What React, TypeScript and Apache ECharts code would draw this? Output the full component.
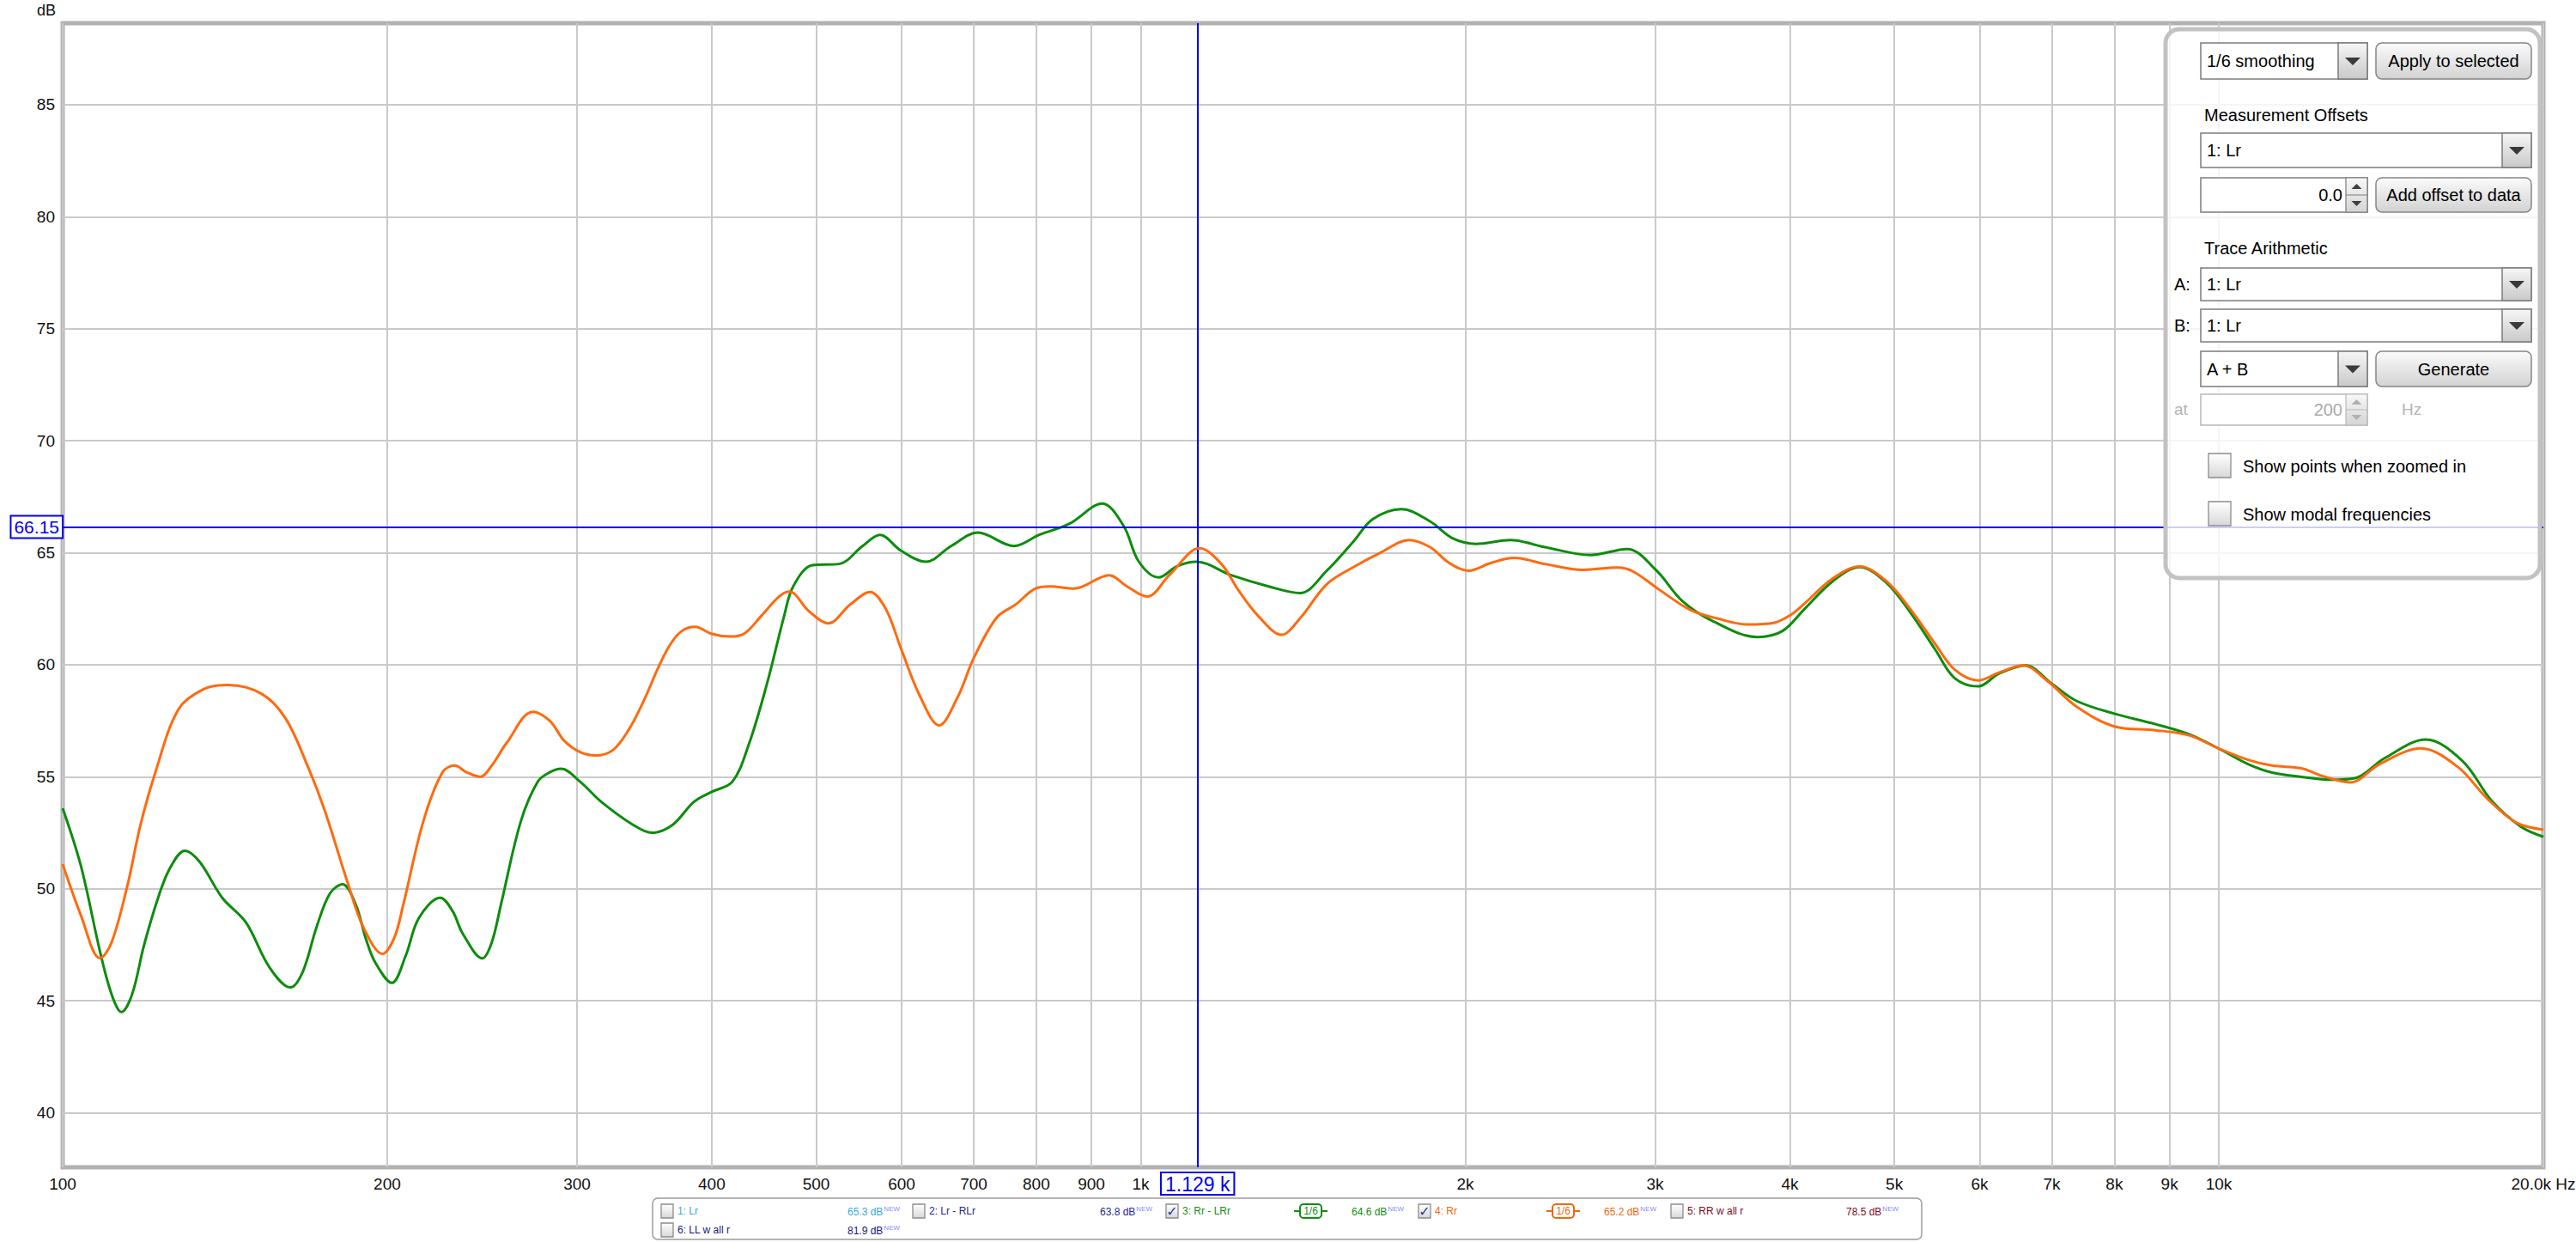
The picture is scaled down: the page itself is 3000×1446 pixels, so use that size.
import React, { useEffect, useRef } from 'react';
import * as echarts from 'echarts';

// ---------- data ----------
const FREQ_TICKS = [100, 200, 300, 400, 500, 600, 700, 800, 900, 1000, 2000, 3000, 4000, 5000, 6000, 7000, 8000, 9000, 10000, 20000];
const FREQ_TICK_LABELS = ['100', '200', '300', '400', '500', '600', '700', '800', '900', '1k', '2k', '3k', '4k', '5k', '6k', '7k', '8k', '9k', '10k', '20.0k Hz'];
const DB_TICKS = [40, 45, 50, 55, 60, 65, 70, 75, 80, 85];

// 3: Rr - LRr (green)
const GREEN_FREQ = [100, 104, 108.3, 111, 113.4, 116, 119, 123, 126, 129.8, 134, 140.6, 147.9, 155.5, 162.6, 167, 172, 177, 181.8, 187, 191, 195, 202, 208, 214, 224, 230, 235, 245, 250, 255, 266, 276, 283, 290, 302, 316, 338, 352, 368, 385, 400, 418, 433, 450, 467, 476, 496, 525, 552, 573, 599, 632, 667, 706, 763, 805, 859, 921, 964, 996, 1039, 1081, 1126, 1213, 1314, 1405, 1488, 1575, 1641, 1745, 1855, 1948, 2046, 2203, 2371, 2615, 2826, 3004, 3182, 3396, 3732, 3935, 4120, 4384, 4643, 4917, 5181, 5458, 5689, 5983, 6250, 6618, 7007, 7385, 8025, 8723, 9384, 9990, 10643, 11205, 11927, 12699, 13377, 14245, 15560, 16830, 17914, 19066, 20000];
const GREEN_DB = [53.6, 51.0, 47.2, 45.3, 44.5, 45.3, 47.5, 49.8, 51.0, 51.7, 51.2, 49.6, 48.5, 46.5, 45.6, 46.3, 48.3, 49.8, 50.2, 49.3, 47.8, 46.7, 45.8, 47.0, 48.7, 49.6, 49.0, 48.0, 46.9, 47.6, 49.3, 53.0, 54.8, 55.2, 55.36, 54.78, 53.88, 52.86, 52.5, 52.86, 53.88, 54.33, 54.78, 56.45, 59.14, 62.2, 63.5, 64.45, 64.5, 65.3, 65.8, 65.1, 64.6, 65.3, 65.9, 65.3, 65.8, 66.3, 67.2, 66.2, 64.6, 63.9, 64.4, 64.6, 64.0, 63.5, 63.2, 64.2, 65.5, 66.5, 66.95, 66.4, 65.64, 65.4, 65.57, 65.25, 64.9, 65.17, 64.24, 62.83, 61.94, 61.24, 61.5, 62.45, 63.73, 64.36, 63.66, 62.3, 60.67, 59.4, 59.04, 59.6, 59.97, 59.14, 58.38, 57.8, 57.36, 56.9, 56.27, 55.57, 55.19, 55.0, 54.87, 54.94, 55.83, 56.66, 55.7, 53.92, 52.77, 52.32];

// 4: Rr (orange)
const ORANGE_FREQ = [100, 104, 108.3, 111, 114.9, 118, 121.9, 128, 135, 142.4, 153, 161, 169, 175, 184, 190, 198, 203, 207, 216, 225, 231, 237, 244, 250, 258, 273, 283, 292, 302, 312, 324, 335, 346, 357, 366, 375, 386, 400, 416, 429, 445, 462, 472, 492, 513, 538, 561, 580, 599, 624, 650, 677, 700, 735, 766, 798, 824, 867, 935, 971, 1014, 1063, 1134, 1188, 1233, 1284, 1351, 1405, 1488, 1575, 1668, 1774, 1855, 1932, 2013, 2114, 2220, 2371, 2572, 2769, 2861, 3029, 3234, 3424, 3656, 3871, 4000, 4120, 4384, 4643, 4917, 5181, 5458, 5689, 5983, 6250, 6583, 6936, 7385, 8025, 8723, 9384, 9990, 10643, 11205, 11927, 12434, 13240, 14101, 15397, 16651, 17730, 18870, 20000];
const ORANGE_DB = [51.1, 48.8, 46.9, 47.6, 50.2, 52.8, 55.2, 58.0, 58.9, 59.1, 58.7, 57.6, 55.4, 53.5, 50.2, 48.3, 47.1, 47.8, 49.3, 53.0, 55.2, 55.5, 55.2, 55.0, 55.5, 56.5, 57.9, 57.5, 56.6, 56.1, 55.95, 56.2, 57.1, 58.4, 59.9, 60.9, 61.5, 61.7, 61.38, 61.26, 61.4, 62.2, 63.05, 63.27, 62.4, 61.85, 62.7, 63.25, 62.5, 60.75, 58.6, 57.3, 58.6, 60.3, 62.1, 62.7, 63.4, 63.5, 63.4, 64.0, 63.5, 63.05, 64.0, 65.2, 64.5, 63.3, 62.2, 61.34, 62.07, 63.6, 64.36, 65.0, 65.57, 65.25, 64.55, 64.2, 64.55, 64.77, 64.5, 64.24, 64.34, 64.17, 63.34, 62.45, 62.07, 61.8, 61.88, 62.2, 62.7, 63.85, 64.39, 63.73, 62.45, 60.92, 59.78, 59.3, 59.65, 59.97, 59.27, 58.12, 57.23, 57.08, 56.85, 56.27, 55.76, 55.5, 55.38, 55.06, 54.75, 55.57, 56.27, 55.45, 54.04, 52.96, 52.64];

const CURSOR_FREQ = 1129;
const CURSOR_DB = 66.15;
const CURSOR_FREQ_LABEL = '1.129 k';
const CURSOR_DB_LABEL = '66.15';

const LEGEND_LABELS = ['1: Lr', '2: Lr - RLr', '3: Rr - LRr', '4: Rr', '5: RR w all r', '6: LL w all r'];
const LEGEND_VALUES = ['65.3 dB', '63.8 dB', '64.6 dB', '65.2 dB', '78.5 dB', '81.9 dB'];
const LEGEND_CHECKED = [false, false, true, true, false, false];
const LEGEND_SMOOTHING = ['', '', '1/6', '1/6', '', ''];
const LEGEND_COLORS = ['#38aad8', '#26268e', '#148c14', '#ea6a10', '#7e0c1e', '#16167e'];

const SMOOTHING_CHOICE = '1/6 smoothing';
const OFFSET_VALUE = '0.0';
const TRACE_A = '1: Lr';
const TRACE_B = '1: Lr';
const TRACE_OP = 'A + B';
const AT_FREQ = '200';

const GREEN = '#0d8c0d';
const ORANGE = '#ff6a0e';
const CURSOR_BLUE = '#0000ee';

const FONT = "'Liberation Sans', Arial, sans-serif";
const SMALL_FONT = "'Liberation Sans Narrow', 'Liberation Sans', Arial, sans-serif";

// ---------- graphic helpers ----------
const grad = (a: string, b: string) =>
  new echarts.graphic.LinearGradient(0, 0, 0, 1, [
    { offset: 0, color: a },
    { offset: 1, color: b },
  ]);

function txt(x: number, y: number, text: string, o: any = {}) {
  const align = o.align || 'left';
  return {
    type: 'text',
    x,
    y,
    z: o.z ?? 110,
    silent: true,
    style: {
      text,
      fill: o.color || '#000',
      fontSize: o.size || 20,
      fontFamily: o.family || FONT,
      fontWeight: o.weight || 'normal',
      align,
      verticalAlign: 'middle',
      textAlign: align,
      textVerticalAlign: 'middle',
    },
  };
}

function rect(x: number, y: number, w: number, h: number, style: any, r = 0, z = 105) {
  return { type: 'rect', z, silent: true, shape: { x, y, width: w, height: h, r }, style };
}

function dropdown(x: number, y: number, w: number, h: number, text: string) {
  const aw = 34;
  const cx = x + w - aw / 2;
  const cy = y + h / 2;
  return [
    rect(x, y, w, h, { fill: '#fff', stroke: '#7c7c7c', lineWidth: 1.5 }),
    rect(x + w - aw, y, aw, h, { fill: grad('#f6f6f6', '#c9c9c9'), stroke: '#7c7c7c', lineWidth: 1.5 }, 0, 106),
    {
      type: 'polygon', z: 107, silent: true,
      shape: { points: [[cx - 9, cy - 4], [cx + 9, cy - 4], [cx, cy + 5]] },
      style: { fill: '#3a3a3a' },
    },
    txt(x + 7, cy, text, { size: 20 }),
  ];
}

function button(x: number, y: number, w: number, h: number, text: string) {
  return [
    rect(x, y, w, h, { fill: grad('#fbfbfb', '#d2d2d2'), stroke: '#858585', lineWidth: 1.5 }, 7),
    txt(x + w / 2, y + h / 2, text, { size: 20, align: 'center' }),
  ];
}

function spinInput(x: number, y: number, w: number, h: number, text: string, disabled: boolean) {
  const sw = 25;
  const border = disabled ? '#b8b8b8' : '#7c7c7c';
  const sx = x + w - sw;
  const cx = sx + sw / 2;
  const triCol = disabled ? '#b0b0b0' : '#404040';
  return [
    rect(x, y, w, h, { fill: '#fff', stroke: border, lineWidth: 1.5 }),
    rect(sx, y, sw, h, { fill: grad('#f8f8f8', '#d4d4d4'), stroke: border, lineWidth: 1.2 }, 0, 106),
    { type: 'line', z: 107, silent: true, shape: { x1: sx, y1: y + h / 2, x2: sx + sw, y2: y + h / 2 }, style: { stroke: border, lineWidth: 1 } },
    { type: 'polygon', z: 107, silent: true, shape: { points: [[cx - 6, y + h / 4 + 3], [cx + 6, y + h / 4 + 3], [cx, y + h / 4 - 3]] }, style: { fill: triCol } },
    { type: 'polygon', z: 107, silent: true, shape: { points: [[cx - 6, y + (3 * h) / 4 - 3], [cx + 6, y + (3 * h) / 4 - 3], [cx, y + (3 * h) / 4 + 3]] }, style: { fill: triCol } },
    txt(sx - 4, y + h / 2, text, { size: 20, align: 'right', color: disabled ? '#aaaaaa' : '#000' }),
  ];
}

function checkbox(x: number, y: number, s: number, checked: boolean, z = 106) {
  const out: any[] = [rect(x, y, s, s + 2, { fill: grad('#ffffff', '#d8d8d8'), stroke: '#8c8c8c', lineWidth: 1.3 }, 0, z)];
  if (checked) {
    out.push({
      ...txt(x + s / 2, y + s / 2 + 1, '\u2713', { size: s + 2, align: 'center', color: '#1c3c9c', family: "'DejaVu Sans', sans-serif" }),
      z: z + 1,
    });
  }
  return out;
}

function buildPanel() {
  const els: any[] = [];
  els.push(rect(2522, 34, 436, 639, { fill: 'rgba(255,255,255,0.8)', stroke: '#c2c2c2', lineWidth: 5 }, 16, 100));
  els.push(...dropdown(2563, 50, 194, 42, SMOOTHING_CHOICE));
  els.push(...button(2767, 50, 181, 42, 'Apply to selected'));
  els.push(txt(2567, 134, 'Measurement Offsets', { size: 20 }));
  els.push(...dropdown(2563, 155, 385, 40, TRACE_A));
  els.push(...spinInput(2563, 207, 194, 40, OFFSET_VALUE, false));
  els.push(...button(2767, 207, 181, 40, 'Add offset to data'));
  els.push(txt(2567, 289, 'Trace Arithmetic', { size: 20 }));
  els.push(txt(2532, 331, 'A:', { size: 20 }));
  els.push(...dropdown(2563, 312, 385, 38, TRACE_A));
  els.push(txt(2532, 379, 'B:', { size: 20 }));
  els.push(...dropdown(2563, 360, 385, 38, TRACE_B));
  els.push(...dropdown(2563, 409, 194, 41, TRACE_OP));
  els.push(...button(2767, 409, 181, 41, 'Generate'));
  els.push(txt(2532, 476, 'at', { size: 19, color: '#b4b4b4' }));
  els.push(...spinInput(2563, 459, 194, 36, AT_FREQ, true));
  els.push(txt(2797, 476, 'Hz', { size: 19, color: '#b4b4b4' }));
  els.push(...checkbox(2572, 528, 26, false));
  els.push(txt(2612, 543, 'Show points when zoomed in', { size: 20 }));
  els.push(...checkbox(2572, 584, 26, false));
  els.push(txt(2612, 599, 'Show modal frequencies', { size: 20 }));
  return els;
}

function buildLegend() {
  const els: any[] = [];
  els.push(rect(760, 1395, 1478, 48, { fill: '#fff', stroke: '#9c9c9c', lineWidth: 1.5 }, 6, 100));
  // layout slots for each legend entry: [checkboxX, row, valueX, badgeX]
  const slots = [
    [770, 0, 987, 0],
    [1063, 0, 1281, 0],
    [1358, 0, 1574, 1510],
    [1652, 0, 1868, 1804],
    [1946, 0, 2150, 0],
    [770, 1, 987, 0],
  ];
  const rowY = [1410, 1432];
  LEGEND_LABELS.forEach((label, i) => {
    const [cbx, row, vx, bx] = slots[i];
    const y = rowY[row];
    const col = LEGEND_COLORS[i];
    els.push(...checkbox(cbx, y - 8, 14, LEGEND_CHECKED[i], 105));
    els.push(txt(cbx + 19, y, label, { size: 12, color: col, family: SMALL_FONT }));
    els.push({
      type: 'text', x: vx, y, z: 110, silent: true,
      style: {
        text: '{v|' + LEGEND_VALUES[i] + '}{n|NEW}',
        verticalAlign: 'middle', textVerticalAlign: 'middle',
        rich: {
          v: { fontSize: 12, fontFamily: SMALL_FONT, fill: col, color: col, verticalAlign: 'bottom' },
          n: { fontSize: 8, fontFamily: SMALL_FONT, fill: '#8a8af2', color: '#8a8af2', verticalAlign: 'top', padding: [0, 0, 6, 1] },
        },
      },
    });
    if (LEGEND_SMOOTHING[i]) {
      els.push({ type: 'line', z: 104, silent: true, shape: { x1: bx - 3, y1: y, x2: bx + 36, y2: y }, style: { stroke: col, lineWidth: 2 } });
      els.push(rect(bx + 4, y - 8, 25, 16, { fill: '#fff', stroke: col, lineWidth: 2 }, 4, 105));
      els.push(txt(bx + 16.5, y, LEGEND_SMOOTHING[i], { size: 12, color: col, align: 'center', family: SMALL_FONT }));
    }
  });
  return els;
}

const zip = (xs: number[], ys: number[]) => xs.map((x, i) => [x, ys[i]]);

export default function App() {
  const ref = useRef<HTMLDivElement>(null);
  useEffect(() => {
    if (!ref.current) return;
    const chart = echarts.init(ref.current, undefined, { renderer: 'svg' });
    const fmtFreq = (v: number) => {
      const idx = FREQ_TICKS.findIndex((t) => Math.abs(t - v) < 1e-6 * t);
      return idx >= 0 ? FREQ_TICK_LABELS[idx] : '';
    };
    const option: any = {
      animation: false,
      backgroundColor: '#ffffff',
      grid: {
        left: 73, right: 38, top: 27, bottom: 87,
        show: true, borderColor: '#b2b2b2', borderWidth: 5, backgroundColor: '#fff',
        containLabel: false, outerBoundsMode: 'none',
      },
      xAxis: {
        type: 'log', logBase: 10, min: 100, max: 20000,
        axisLine: { show: false },
        axisTick: { show: false, customValues: FREQ_TICKS },
        axisLabel: {
          customValues: FREQ_TICKS, formatter: fmtFreq,
          fontSize: 19, color: '#111', fontFamily: FONT, margin: 10,
          showMinLabel: true, showMaxLabel: true,
        },
        splitLine: { show: true, lineStyle: { color: '#cacaca', width: 2 } },
        minorSplitLine: { show: false },
      },
      yAxis: {
        type: 'value', min: 37.57, max: 88.64,
        name: 'dB', nameLocation: 'end', nameGap: 6,
        nameTextStyle: { fontSize: 18, color: '#111', fontFamily: FONT, align: 'right', verticalAlign: 'bottom', padding: [0, 8, 0, 0] },
        axisLine: { show: false },
        axisTick: { show: false, customValues: DB_TICKS },
        axisLabel: { customValues: DB_TICKS, fontSize: 19, color: '#111', fontFamily: FONT, margin: 9, showMinLabel: true, showMaxLabel: true },
        splitLine: { show: true, lineStyle: { color: '#cacaca', width: 2 } },
      },
      series: [
        {
          name: '3: Rr - LRr', type: 'line', data: zip(GREEN_FREQ, GREEN_DB),
          showSymbol: false, smooth: 0.35, z: 3,
          lineStyle: { color: GREEN, width: 3 }, itemStyle: { color: GREEN },
          markLine: {
            silent: true, symbol: 'none', animation: false, z: 4,
            lineStyle: { color: CURSOR_BLUE, width: 2, type: 'solid' },
            data: [
              {
                yAxis: CURSOR_DB,
                label: {
                  show: true, position: 'start', formatter: CURSOR_DB_LABEL, distance: 1,
                  color: CURSOR_BLUE, fontSize: 21, fontFamily: FONT,
                  backgroundColor: '#fff', borderColor: CURSOR_BLUE, borderWidth: 2, padding: [2, 3, 1, 3],
                },
              },
              {
                xAxis: CURSOR_FREQ,
                label: {
                  show: true, position: 'start', formatter: CURSOR_FREQ_LABEL, distance: 7,
                  color: CURSOR_BLUE, fontSize: 23, fontFamily: FONT,
                  backgroundColor: '#fff', borderColor: CURSOR_BLUE, borderWidth: 2, padding: [1, 4, 0, 4],
                },
              },
            ],
          },
        },
        {
          name: '4: Rr', type: 'line', data: zip(ORANGE_FREQ, ORANGE_DB),
          showSymbol: false, smooth: 0.35, z: 5,
          lineStyle: { color: ORANGE, width: 3 }, itemStyle: { color: ORANGE },
        },
      ],
      graphic: [...buildPanel(), ...buildLegend()],
    };
    chart.setOption(option);
    return () => chart.dispose();
  }, []);
  return <div ref={ref} style={{ position: 'absolute', left: 0, top: 0, width: 3000, height: 1446 }} />;
}
